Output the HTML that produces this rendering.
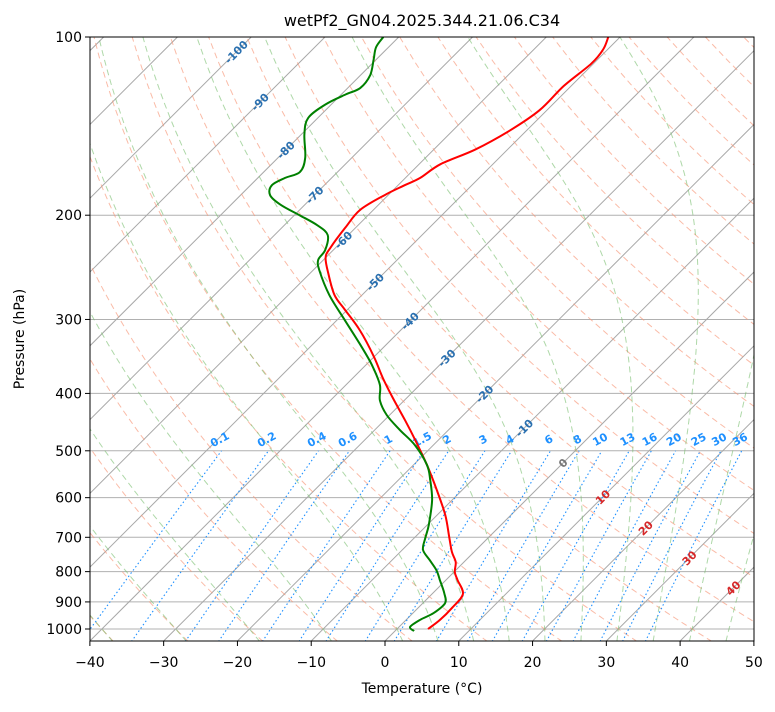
<!DOCTYPE html>
<html><head><meta charset="utf-8"><style>
body{margin:0;background:#fff;font-family:"DejaVu Sans","Liberation Sans",sans-serif}
svg text{font-family:"DejaVu Sans","Liberation Sans",sans-serif}
</style></head><body>
<svg id="chart" width="775" height="708" xmlns="http://www.w3.org/2000/svg">
<defs><clipPath id="pc"><rect x="90" y="37" width="664" height="604"/></clipPath></defs>
<rect width="775" height="708" fill="#fff"/>
<text x="422" y="26" font-size="16" text-anchor="middle">wetPf2_GN04.2025.344.21.06.C34</text>
<g id="bg" clip-path="url(#pc)"></g>
<g id="lbl"></g>
<g id="prof" clip-path="url(#pc)"></g>
<rect x="90" y="37" width="664" height="604" fill="none" stroke="#000" stroke-width="1"/>
<g id="axes"></g>
<text x="422" y="693" font-size="14" text-anchor="middle">Temperature (°C)</text>
<text transform="translate(24,339) rotate(-90)" font-size="14" text-anchor="middle">Pressure (hPa)</text>
</svg>
<script>
const tempP=[1000,965,921,873,827,801,771,741,699,642,583,527,479,444,407,377,347,313,289,273,252,236,227,210,196,185,178,173,164,155,144,133,121,111,105,100];
const tempT=[4.2,4.6,4.6,4.2,1.6,0.1,-1.1,-3.0,-5.4,-8.9,-13.4,-18.3,-23.2,-27.2,-31.9,-35.9,-40.0,-45.5,-50.3,-53.7,-57.3,-60.0,-60.7,-61.4,-61.8,-60.5,-59.1,-58.0,-57.1,-54.4,-52.3,-51.0,-51.0,-50.3,-50.6,-51.6];
const dewP=[1008,992,965,940,904,869,827,796,765,735,702,667,606,560,528,489,461,435,411,387,358,331,301,273,248,238,229,216,208,200,192,185,178,173,169,160,146,137,130,125,122,116,109,104,100];
const dewT=[2.6,1.5,1.9,2.8,3.0,1.5,-0.8,-2.6,-4.9,-7.2,-8.5,-9.8,-12.7,-15.7,-18.2,-22.5,-26.6,-30.4,-33.3,-35.4,-39.2,-43.5,-48.9,-54.4,-59.1,-60.7,-61.1,-62.8,-65.5,-69.3,-73.3,-76.0,-77.1,-76.3,-75.1,-76.3,-79.6,-81.3,-80.8,-79.4,-78.3,-78.7,-80.4,-81.7,-82.1];
const pTicks=[100,200,300,400,500,600,700,800,900,1000];
const tTicks=[-40,-30,-20,-10,0,10,20,30,40,50];
const mixRatios=[0.1,0.2,0.4,0.6,1,1.5,2,3,4,6,8,10,13,16,20,25,30,36];
const mixLabels=["0.1","0.2","0.4","0.6","1","1.5","2","3","4","6","8","10","13","16","20","25","30","36"];

const NS="http://www.w3.org/2000/svg";
function Y(p){return 37+592*Math.log10(p/100);}
function X(T,p){return 385+7.378*T+(641-Y(p));}
function mk(tag,attrs,parent){const e=document.createElementNS(NS,tag);for(const k in attrs)e.setAttribute(k,attrs[k]);parent.appendChild(e);return e;}
function pathD(ps,ts){return ps.map((p,i)=>(i?'L':'M')+X(ts[i],p).toFixed(1)+','+Y(p).toFixed(1)).join('');}
function smoothD(ps,ts){
 const pts=ps.map((p,i)=>[X(ts[i],p),Y(p)]);
 let d='M'+pts[0][0].toFixed(1)+','+pts[0][1].toFixed(1);
 for(let i=0;i<pts.length-1;i++){
  const p0=pts[Math.max(0,i-1)],p1=pts[i],p2=pts[i+1],p3=pts[Math.min(pts.length-1,i+2)];
  const c1=[p1[0]+(p2[0]-p0[0])/6,p1[1]+(p2[1]-p0[1])/6];
  const c2=[p2[0]-(p3[0]-p1[0])/6,p2[1]-(p3[1]-p1[1])/6];
  d+='C'+c1[0].toFixed(1)+','+c1[1].toFixed(1)+' '+c2[0].toFixed(1)+','+c2[1].toFixed(1)+' '+p2[0].toFixed(1)+','+p2[1].toFixed(1);
 }
 return d;
}
const bg=document.getElementById('bg'),lbl=document.getElementById('lbl'),prof=document.getElementById('prof'),ax=document.getElementById('axes');

pTicks.forEach(p=>{
 const l=mk('line',{x1:90,x2:754,y1:Y(p),y2:Y(p),stroke:'#b0b0b0','stroke-width':1},bg);
 
 
});
for(let T=-160;T<=50;T+=10){
 const l=mk('line',{x1:X(T,1050),y1:Y(1050),x2:X(T,100),y2:Y(100),stroke:'#a8a8a8','stroke-width':1},bg);
 
 
}
const pl=[];for(let p=1050;p>=100;p-=10)pl.push(p);
for(let th=-100;th<=200;th+=10){
 const ts=pl.map(p=>(th+273.15)*Math.pow(p/1000,0.2857)-273.15);
 const l=mk('path',{d:pathD(pl,ts),fill:'none',stroke:'rgb(247,150,120)','stroke-opacity':0.65,'stroke-width':1,'stroke-dasharray':'6,4'},bg);
 
 
}
function dTdp(T,p){const Tc=T-273.15;const es=6.112*Math.exp(17.67*Tc/(Tc+243.5));const rs=0.622*es/(p-es);
 return (287*T+2.501e6*rs)/(p*(1005+2.501e6*2.501e6*rs*0.622/(287*T*T)));}
const moist0=[-50,-40,-30,-20,-10,0,5,10,15,20,25,30,35,40,45,50];
moist0.forEach(t0=>{
 const ps=[],ts=[];let T=t0+273.15;
 let Td=T;for(let p=1000;p<1050;p+=5){Td+=dTdp(Td,p)*5;}
 ps.push(1050);ts.push(Td-273.15);
 for(let p=1000;p>=100;p-=5){ps.push(p);ts.push(T-273.15);T-=dTdp(T,p)*5;}
 const l=mk('path',{d:pathD(ps,ts),fill:'none',stroke:'rgb(120,190,110)','stroke-opacity':0.6,'stroke-width':1,'stroke-dasharray':'6,4'},bg);
 
 
});
function tMix(w,p){const e=w*p/(622+w);const a=Math.log(e/6.112);return 243.5*a/(17.67-a);}
mixRatios.forEach((w,i)=>{
 const ps=[],ts=[];for(let p=1050;p>=500;p-=10){ps.push(p);ts.push(tMix(w,p));}
 const l=mk('path',{d:pathD(ps,ts),fill:'none',stroke:'#1e90ff','stroke-width':1.1,'stroke-dasharray':'1.5,2.5'},bg);
 
 
 const x=X(tMix(w,500),500),y=Y(500)-8;
 const t=mk('text',{x:x,y:y,'font-size':11,'font-weight':'bold',fill:'#1e90ff','text-anchor':'middle',transform:`rotate(-28 ${x} ${y})`},lbl);
 t.textContent=mixLabels[i];
 
 
});
const isoLab=[[-100,52],[-90,102],[-80,150],[-70,195],[-60,240],[-50,282],[-40,321],[-30,358],[-20,394],[-10,428],[0,463],[10,497],[20,528],[30,558],[40,588]];
isoLab.forEach(([T,y])=>{
 const x=385+7.378*T+(641-y);
 const col=T<0?'#2a70b0':(T==0?'#777':'#d62728');
 const t=mk('text',{x:x,y:y+4,'font-size':11,'font-weight':'bold',fill:col,'text-anchor':'middle',transform:`rotate(-45 ${x} ${y})`},lbl);
 t.textContent=T;
 
 
});
const tl=mk('path',{d:smoothD(tempP,tempT),fill:'none',stroke:'#ff0000','stroke-width':2,'stroke-linejoin':'round'},prof);


const dl=mk('path',{d:smoothD(dewP,dewT),fill:'none',stroke:'#008000','stroke-width':2,'stroke-linejoin':'round'},prof);


pTicks.forEach(p=>{
 const y=Y(p);
 const tk=mk('line',{x1:85,x2:90,y1:y,y2:y,stroke:'#000'},ax);
 
 
 const t=mk('text',{x:82,y:y+5,'font-size':14,'text-anchor':'end'},ax);
 t.textContent=p;
 
 
});
tTicks.forEach(T=>{
 const x=385+7.378*T;
 const tk=mk('line',{x1:x,x2:x,y1:641,y2:646,stroke:'#000'},ax);
 
 
 const t=mk('text',{x:x,y:667,'font-size':14,'text-anchor':'middle'},ax);
 t.textContent=T<0?'\u2212'+(-T):T;
 
 
});
</script>
</body></html>
